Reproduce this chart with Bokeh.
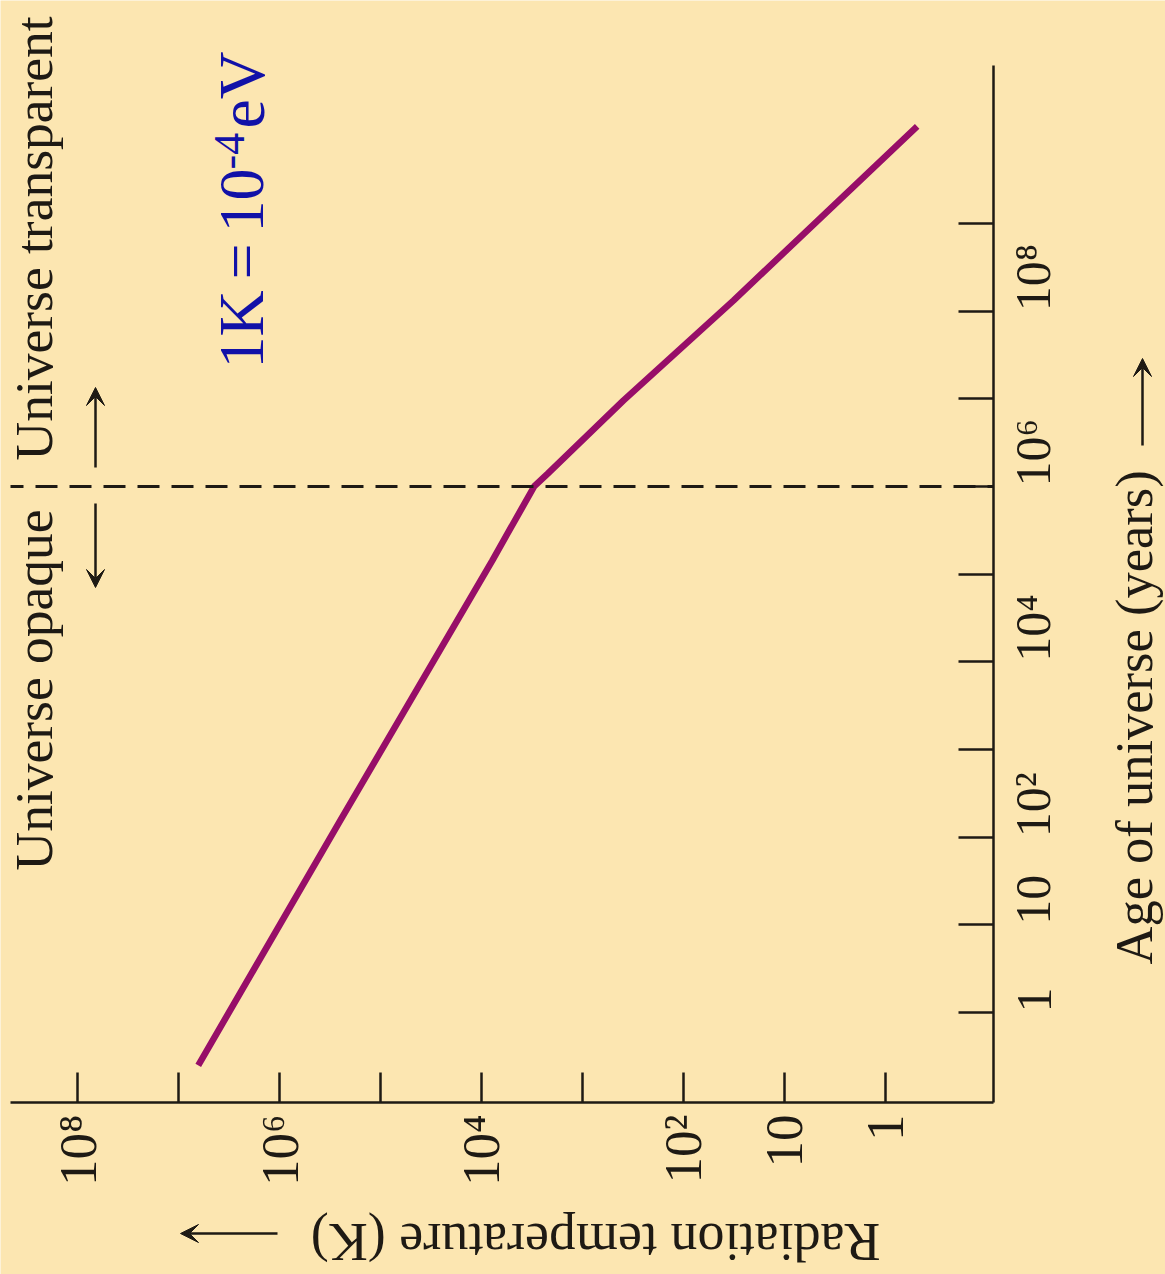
import math

from bokeh.embed import file_html
from bokeh.models import Arrow, FixedTicker, Label, Range1d, VeeHead
from bokeh.plotting import figure
from bokeh.resources import INLINE

# Temperature of the background radiation against the age of the universe
age_years = [0.25, 155, 1.43e5, 1.0e6, 1.4e6, 9.6e6, 1.32e8, 1.28e10]
temperature_k = [6.4e6, 2.5e5, 7.8e3, 3.0e3, 2.2e3, 3.9e2, 31.8, 0.48]

temperature_ticks = [1e8, 1e7, 1e6, 1e5, 1e4, 1e3, 1e2, 10, 1]
temperature_tick_labels = ["10⁸", "", "10⁶", "", "10⁴", "", "10²", "10", "1"]
age_ticks = [1, 10, 1e2, 1e3, 1e4, 1e5, 1e6, 1e7, 1e8, 1e9]
age_tick_labels = ["1", "10", "10²", "", "10⁴", "", "10⁶", "", "10⁸", ""]

decoupling_age = 1e6  # years: matter and radiation decouple

# ---------------------------------------------------------------- layout
W, H = 1165, 1274
AX_LEFT, AX_TOP, AX_RIGHT, AX_BOTTOM = 10, 65, 993, 1102  # axes box, px
T_ONE_PX, T_DECADE_PX = 884.5, 100.9     # where 1 K sits, px per decade
A_ONE_PX, A_DECADE_PX = 1012.0, 87.67    # where 1 year sits, px per decade

BG = "#FCE6B1"
INK = "#1E1A14"
CURVE = "#970E68"
BLUE = "#1111A8"
SERIF = "Liberation Serif"


def temp_at(px):
    """Temperature shown at page column px (scale runs right to left)."""
    return 10 ** ((T_ONE_PX - px) / T_DECADE_PX)


def age_at(py):
    """Age shown at page row py (scale runs bottom to top)."""
    return 10 ** ((A_ONE_PX - py) / A_DECADE_PX)


# The frame fills the whole page so that the rotated titles and arrows
# around the axes are not clipped; the axes are pinned inside it.
p = figure(
    width=W, height=H,
    x_axis_type="log", y_axis_type="log",
    x_range=Range1d(temp_at(0), temp_at(W)),
    y_range=Range1d(age_at(H), age_at(0)),
    y_axis_location="right",
    title=None, toolbar_location=None, output_backend="svg",
    min_border_left=0, min_border_top=0,
    min_border_right=0, min_border_bottom=0,
    background_fill_color=BG, border_fill_color=BG,
    outline_line_color=None,
)
p.grid.visible = False

temp_lo, temp_hi = temp_at(AX_RIGHT), temp_at(AX_LEFT)
age_lo, age_hi = age_at(AX_BOTTOM), age_at(AX_TOP)

xa = p.xaxis[0]
xa.fixed_location = age_lo
xa.bounds = (temp_lo, temp_hi)
xa.ticker = FixedTicker(ticks=temperature_ticks, minor_ticks=[])
xa.major_label_overrides = dict(zip(temperature_ticks, temperature_tick_labels))
xa.major_tick_in, xa.major_tick_out = 30, 0
xa.major_label_standoff = 12

ya = p.yaxis[0]
ya.fixed_location = temp_lo
ya.bounds = (age_lo, age_hi)
ya.ticker = FixedTicker(ticks=age_ticks, minor_ticks=[])
ya.major_label_overrides = dict(zip(age_ticks, age_tick_labels))
ya.major_tick_in, ya.major_tick_out = 35, 0
ya.major_label_standoff = 40

for ax, size in ((xa, "53px"), (ya, "50px")):
    ax.minor_tick_in = ax.minor_tick_out = 0
    ax.axis_line_color = INK
    ax.axis_line_width = 2.5
    ax.major_tick_line_color = INK
    ax.major_tick_line_width = 2.5
    ax.major_label_orientation = math.pi / 2
    ax.major_label_text_font = SERIF
    ax.major_label_text_font_size = size
    ax.major_label_text_color = INK

# radiation temperature curve
p.line(temperature_k, age_years, line_color=CURVE, line_width=6.5)

# decoupling time, across the axes box
p.line([temp_hi, temp_lo], [decoupling_age, decoupling_age],
       line_color=INK, line_width=3, line_dash="22 12", line_dash_offset=9)


def label(text, px, py, angle, size, color=INK):
    """Text whose baseline starts at page point (px, py)."""
    # the renderer drops the baseline about 0.4 em below the anchor
    drop = 0.4 * size
    ax_ = px - drop * math.sin(angle)
    ay_ = py - drop * math.cos(angle)
    p.add_layout(Label(text=text, x=ax_, y=H - ay_,
                       x_units="screen", y_units="screen",
                       angle=angle, text_font=SERIF,
                       text_font_size=f"{size}px", text_color=color,
                       text_align="left", text_baseline="alphabetic"))


def arrow(x0, y0, x1, y1):
    p.add_layout(Arrow(x_start=x0, y_start=H - y0, x_end=x1, y_end=H - y1,
                       start_units="screen", end_units="screen",
                       line_color=INK, line_width=2.5,
                       end=VeeHead(size=18, fill_color=INK, line_color=INK,
                                   line_width=1)))


up = math.pi / 2

# regions either side of decoupling
label("Universe opaque", 55, 870, up, 53.5)
label("Universe transparent", 55, 460, up, 53.5)
arrow(95, 503, 95, 587)
arrow(95, 467, 95, 387)

# unit conversion note
label("1K", 267, 368, up, 64, BLUE)
label("=", 267, 279, up, 64, BLUE)
label("10", 267, 232, up, 64, BLUE)
label("-4", 247, 169, up, 44, BLUE)
label("eV", 267, 128, up, 66, BLUE)

# axis titles
label("Radiation temperature (K)", 880, 1220, math.pi, 54)
arrow(277, 1233, 180, 1233)
label("Age of universe (years)", 1154, 964, up, 52.5)
arrow(1142, 445, 1142, 358)

open("out.html", "w").write(file_html(p, INLINE))
